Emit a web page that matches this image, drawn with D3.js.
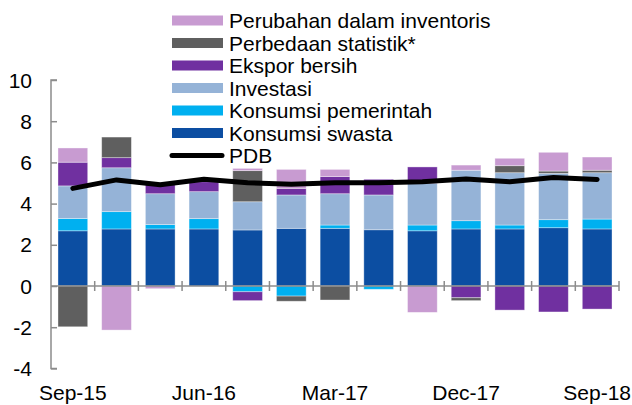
<!DOCTYPE html>
<html>
<head>
<meta charset="utf-8">
<script src="https://cdn.jsdelivr.net/npm/d3@7"></script>
<style>
  body { margin: 0; background: #fff; }
  text { font-family: "Liberation Sans", Arial, sans-serif; fill: #000; }
</style>
</head>
<body>
<div class="chart"></div>
<script>
const categories = ['Sep-15','Dec-15','Mar-16','Jun-16','Sep-16','Dec-16','Mar-17','Jun-17','Sep-17','Dec-17','Mar-18','Jun-18','Sep-18'];
const tickLabels = ['Sep-15','Jun-16','Mar-17','Dec-17','Sep-18'];

// contributions to growth, percentage points
const swasta     = [2.68, 2.77, 2.77, 2.77, 2.72, 2.80, 2.80, 2.73, 2.68, 2.77, 2.77, 2.83, 2.77];
const pemerintah = [0.60, 0.84, 0.21, 0.50, -0.28, -0.49, 0.16, -0.16, 0.28, 0.40, 0.19, 0.39, 0.48];
const investasi  = [1.58, 2.13, 1.50, 1.31, 1.37, 1.62, 1.52, 1.69, 2.03, 2.45, 2.54, 2.25, 2.25];
const ekspor     = [1.15, 0.49, 0.50, 0.48, -0.43, 0.32, 0.83, 0.76, 0.79, -0.57, -1.17, -1.26, -1.12];
const statistik  = [-1.98, 1.00, 0.00, 0.00, 1.51, -0.25, -0.68, 0.00, 0.00, -0.14, 0.34, 0.11, 0.12];
const inventori  = [0.69, -2.14, -0.13, 0.00, 0.11, 0.92, 0.35, 0.00, -1.28, 0.25, 0.36, 0.91, 0.64];
const pdb        = [4.74, 5.15, 4.92, 5.18, 5.01, 4.94, 5.01, 5.01, 5.06, 5.19, 5.06, 5.27, 5.17];

const series = [
  {key: 'swasta', name: 'Konsumsi swasta', values: swasta, color: '#0C4EA2'},
  {key: 'pemerintah', name: 'Konsumsi pemerintah', values: pemerintah, color: '#00B0F0'},
  {key: 'investasi', name: 'Investasi', values: investasi, color: '#95B3D7'},
  {key: 'ekspor', name: 'Ekspor bersih', values: ekspor, color: '#7030A0'},
  {key: 'statistik', name: 'Perbedaan statistik*', values: statistik, color: '#5F5F5F'},
  {key: 'inventori', name: 'Perubahan dalam inventoris', values: inventori, color: '#C89BD1'}
];

const W = 632, H = 405;
const svg = d3.select('.chart').append('svg')
  .attr('width', W)
  .attr('height', H);

const x = d3.scaleBand()
  .domain(categories)
  .range([51, 619])
  .paddingInner(0.32)
  .paddingOuter(0.16);

const y = d3.scaleLinear()
  .domain([-4, 10])
  .range([368.4, 80]);

// table for the stack
const table = categories.map((c, i) => {
  const row = {cat: c};
  series.forEach(s => row[s.key] = s.values[i]);
  return row;
});

const stacked = d3.stack()
  .keys(series.map(s => s.key))
  .offset(d3.stackOffsetDiverging)(table);

svg.append('g')
  .selectAll('g')
  .data(stacked)
  .join('g')
  .attr('fill', (d, i) => series[i].color)
  .selectAll('rect')
  .data(d => d.filter(v => v[0] !== v[1]))
  .join('rect')
  .attr('x', d => x(d.data.cat))
  .attr('width', x.bandwidth())
  .attr('y', d => y(Math.max(d[0], d[1])))
  .attr('height', d => Math.abs(y(d[0]) - y(d[1])))
  .attr('stroke', '#fff')
  .attr('stroke-opacity', 0.45)
  .attr('stroke-width', 0.8);

// y axis
const yAxis = d3.axisRight(y)
  .tickValues(d3.range(-4, 11, 2))
  .tickSize(6)
  .tickFormat('');
const gy = svg.append('g')
  .attr('transform', 'translate(51,0)')
  .call(yAxis);
gy.select('.domain').attr('stroke', '#8c8c8c').attr('stroke-width', 1.5).attr('d', `M6,${y(10)}H0V${y(-4)}H6`);
gy.selectAll('.tick line').attr('stroke', '#8c8c8c').attr('stroke-width', 1.5);

svg.append('g')
  .selectAll('text')
  .data(d3.range(-4, 11, 2))
  .join('text')
  .attr('x', 32)
  .attr('y', d => y(d))
  .attr('dy', '0.36em')
  .attr('text-anchor', 'end')
  .style('font-size', '21px')
  .text(d => d);

// x axis at zero
const x0 = x.range()[0], step = x.step();
const gx = svg.append('g');
gx.append('line')
  .attr('x1', x.range()[0]).attr('x2', x.range()[1])
  .attr('y1', y(0)).attr('y2', y(0))
  .attr('stroke', '#8c8c8c').attr('stroke-width', 1.5);
gx.selectAll('.xt')
  .data(d3.range(1, categories.length + 1))
  .join('line')
  .attr('class', 'xt')
  .attr('x1', i => x0 + i * step).attr('x2', i => x0 + i * step)
  .attr('y1', y(0) - 5).attr('y2', y(0) + 5)
  .attr('stroke', '#8c8c8c').attr('stroke-width', 1.5);

svg.append('g')
  .selectAll('text')
  .data(tickLabels)
  .join('text')
  .attr('x', d => x(d) + x.bandwidth() / 2)
  .attr('y', 400)
  .attr('text-anchor', 'middle')
  .style('font-size', '21px')
  .text(d => d);

// PDB line
const line = d3.line()
  .x((d, i) => x(categories[i]) + x.bandwidth() / 2)
  .y(d => y(d));

svg.append('path')
  .datum(pdb)
  .attr('d', line)
  .attr('fill', 'none')
  .attr('stroke', '#000')
  .attr('stroke-width', 5)
  .attr('stroke-linejoin', 'round')
  .attr('stroke-linecap', 'round');

// legend
const legendItems = series.slice().reverse().map(s => ({name: s.name, color: s.color, type: 'rect'}));
legendItems.push({name: 'PDB', color: '#000', type: 'line'});

const lg = svg.append('g')
  .selectAll('g')
  .data(legendItems)
  .join('g')
  .attr('transform', (d, i) => `translate(172,${20.5 + i * 22.5})`);

lg.filter(d => d.type === 'rect').append('rect')
  .attr('x', 0).attr('y', -5)
  .attr('width', 51).attr('height', 10)
  .attr('fill', d => d.color);

lg.filter(d => d.type === 'line').append('line')
  .attr('x1', 0).attr('x2', 50)
  .attr('y1', 0).attr('y2', 0)
  .attr('stroke', '#000')
  .attr('stroke-width', 5)
  .attr('stroke-linecap', 'round');

lg.append('text')
  .attr('x', 57)
  .attr('y', 0)
  .attr('dy', '0.36em')
  .style('font-size', '21px')
  .text(d => d.name);
</script>
</body>
</html>
